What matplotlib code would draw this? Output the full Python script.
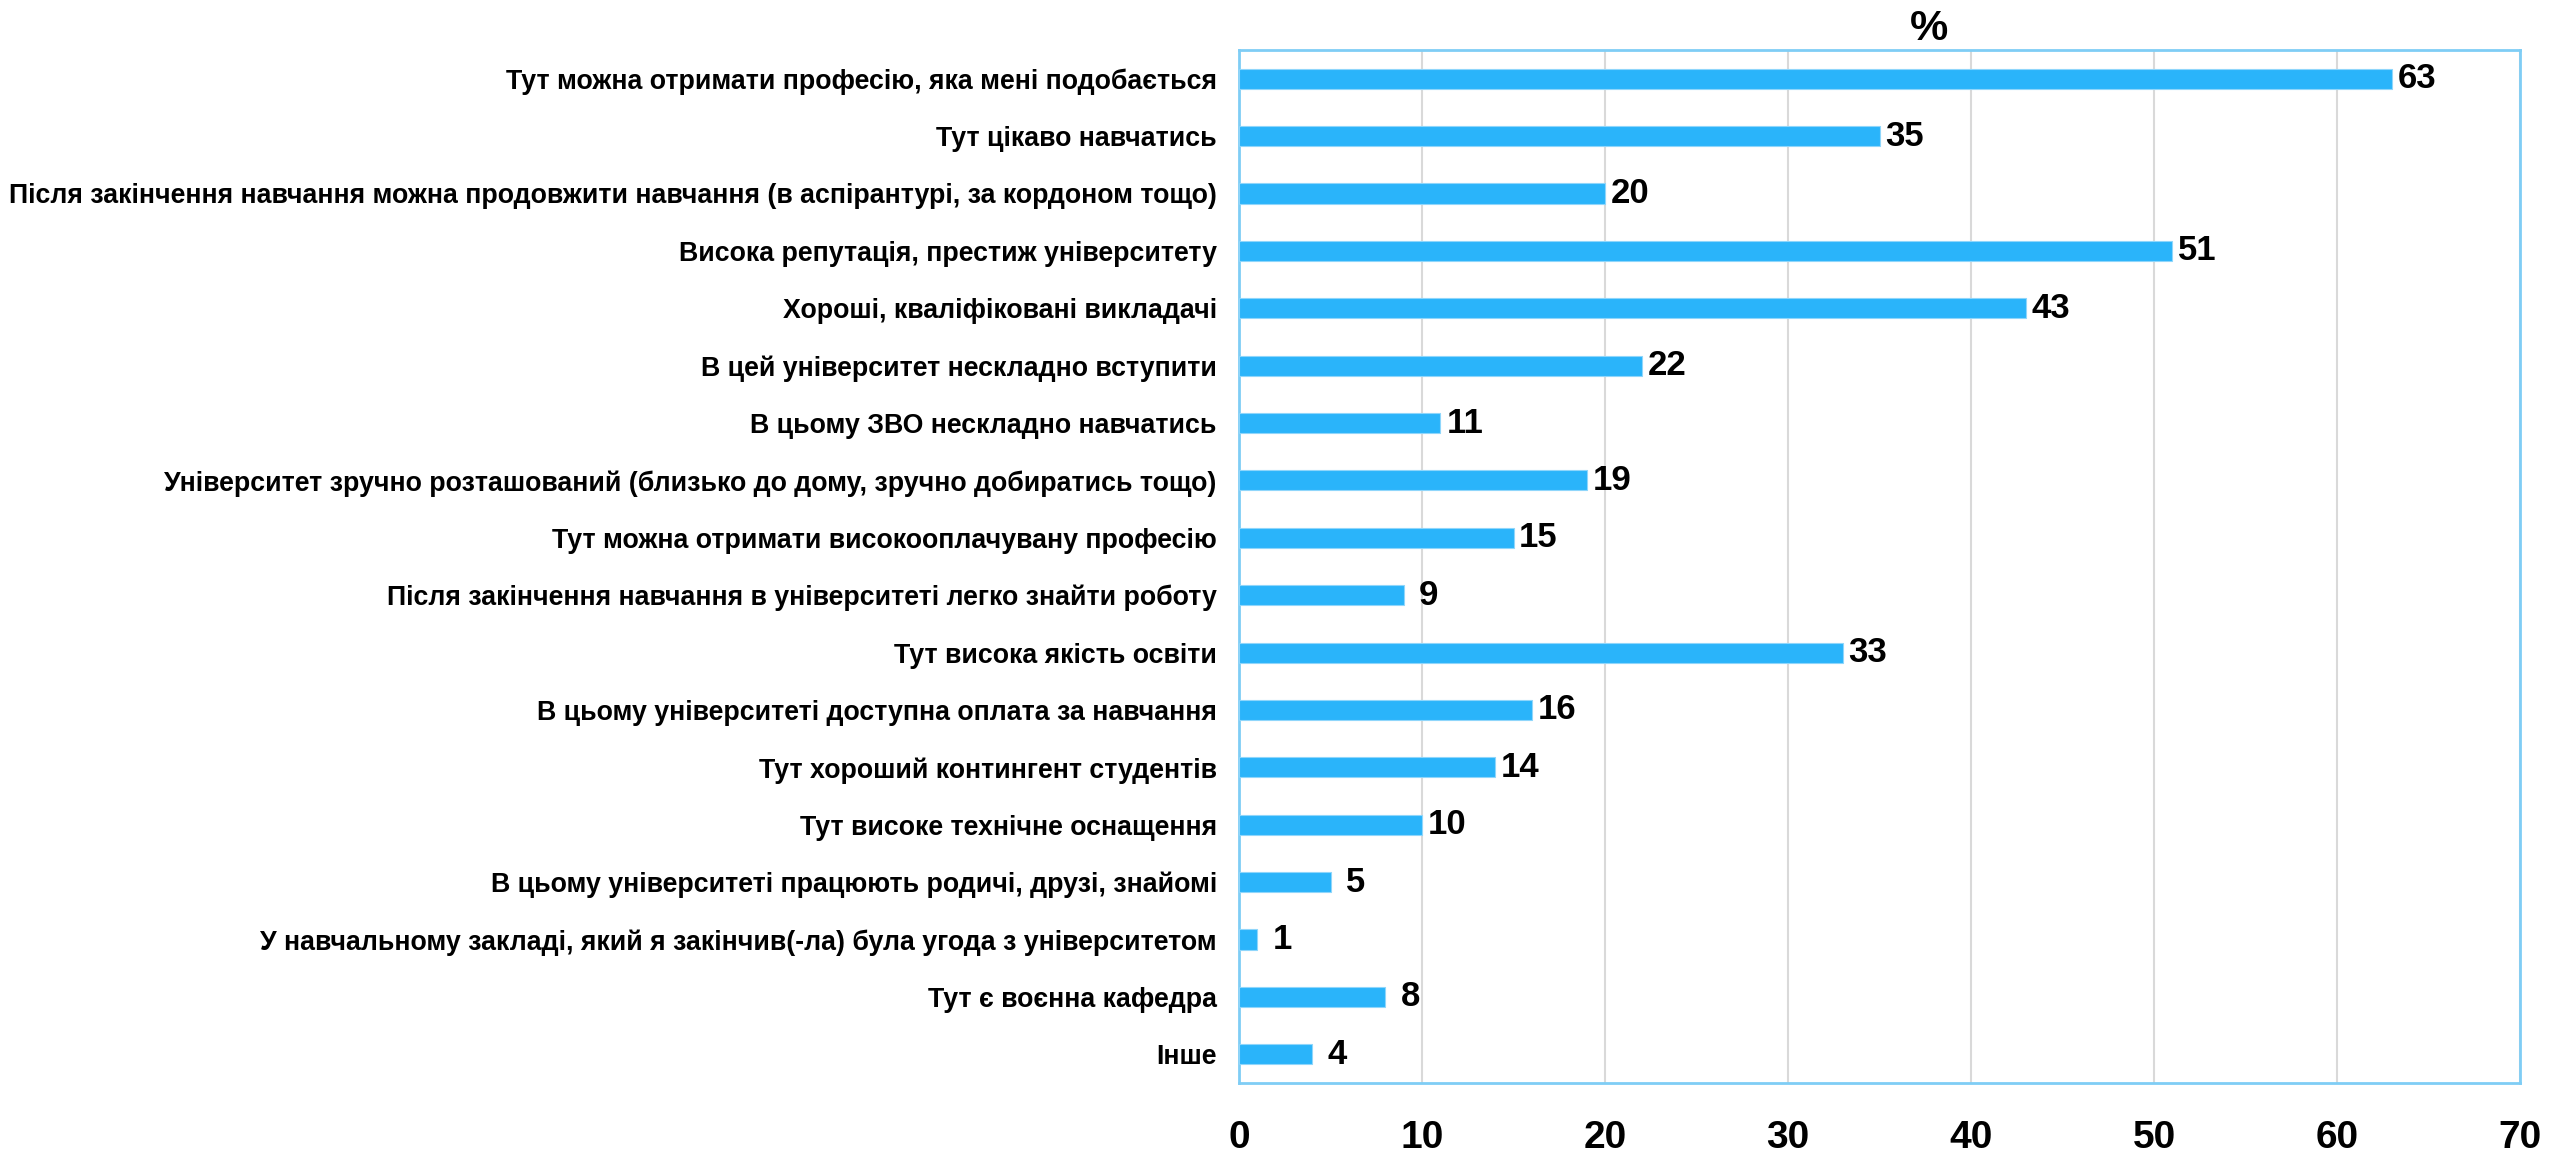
import matplotlib
matplotlib.use("Agg")
import matplotlib.pyplot as plt
import numpy as np

# ── data ─────────────────────────────────────────────────────────────────────
categories = [
    "Тут можна отримати професію, яка мені подобається",
    "Тут цікаво навчатись",
    "Після закінчення навчання можна продовжити навчання (в аспірантурі, за кордоном тощо)",
    "Висока репутація, престиж університету",
    "Хороші, кваліфіковані викладачі",
    "В цей університет нескладно вступити",
    "В цьому ЗВО нескладно навчатись",
    "Університет зручно розташований (близько до дому, зручно добиратись тощо)",
    "Тут можна отримати високооплачувану професію",
    "Після закінчення навчання в університеті легко знайти роботу",
    "Тут висока якість освіти",
    "В цьому університеті доступна оплата за навчання",
    "Тут хороший контингент студентів",
    "Тут високе технічне оснащення",
    "В цьому університеті працюють родичі, друзі, знайомі",
    "У навчальному закладі, який я закінчив(-ла) була угода з університетом",
    "Тут є воєнна кафедра",
    "Інше",
]
values = [63, 35, 20, 51, 43, 22, 11, 19, 15, 9, 33, 16, 14, 10, 5, 1, 8, 4]
xticks = [0, 10, 20, 30, 40, 50, 60, 70]

# ── styling ──────────────────────────────────────────────────────────────────
plt.rcParams["font.family"] = ["Liberation Sans", "DejaVu Sans"]
plt.rcParams["font.weight"] = "bold"
BAR = "#2AB4FA"
FRAME = "#7FCDF5"
GRID = "#D9D9D9"

fig, ax = plt.subplots(figsize=(25.52, 11.52), dpi=100)
fig.subplots_adjust(left=0.4855, right=0.9875, top=0.9566, bottom=0.0599)

y = np.arange(len(categories))
bars = ax.barh(y, values, height=0.35, color=BAR, edgecolor="#8FD6FB", linewidth=0.8, zorder=3)

ax.set_ylim(len(categories) - 0.5, -0.5)
ax.set_xlim(0, 70)
ax.set_yticks(y)
ax.set_yticklabels(categories, fontsize=19.3, fontweight="bold")
ax.set_xticks(xticks)
ax.set_xticklabels([str(t) for t in xticks], fontsize=28, fontweight="bold")
ax.tick_params(axis="y", length=0, pad=16)
ax.tick_params(axis="x", length=0, pad=27)
ax.grid(axis="x", color=GRID, linewidth=1.5, zorder=0)
for s in ax.spines.values():
    s.set_color(FRAME)
    s.set_linewidth(2)

# value labels right of each bar
for b, v in zip(bars, values):
    ax.annotate(f"{v}", (b.get_width(), b.get_y() + b.get_height() / 2),
                xytext=(18, 0), textcoords="offset points",
                ha="center", va="center", fontsize=25, fontweight="bold")

fig.text(0.756, 0.975, "%", ha="center", va="center", fontsize=31, fontweight="bold")

fig.savefig("out.png", dpi=100)
